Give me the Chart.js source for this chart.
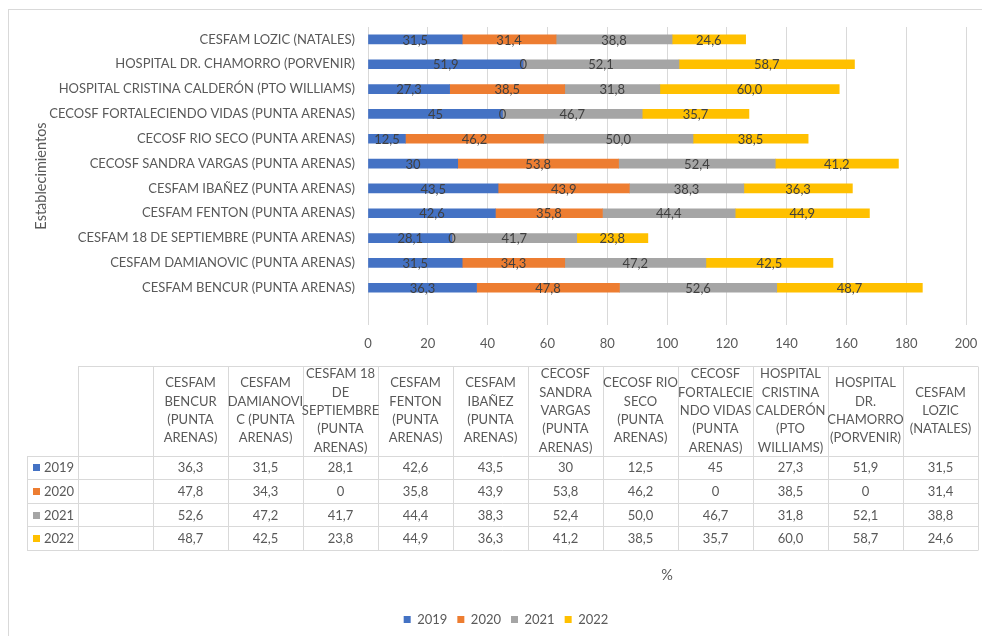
<!DOCTYPE html>
<html>
<head>
<meta charset="utf-8">
<title>Establecimientos</title>
<script src="https://cdn.jsdelivr.net/npm/chart.js"></script>
<style>
  html, body { margin: 0; padding: 0; background: #fff; }
</style>
</head>
<body>
<canvas id="grafico" width="982" height="636"></canvas>
<script>
const establecimientos = [
  'CESFAM BENCUR (PUNTA ARENAS)',
  'CESFAM DAMIANOVIC (PUNTA ARENAS)',
  'CESFAM 18 DE SEPTIEMBRE (PUNTA ARENAS)',
  'CESFAM FENTON (PUNTA ARENAS)',
  'CESFAM IBAÑEZ (PUNTA ARENAS)',
  'CECOSF SANDRA VARGAS (PUNTA ARENAS)',
  'CECOSF RIO SECO (PUNTA ARENAS)',
  'CECOSF FORTALECIENDO VIDAS (PUNTA ARENAS)',
  'HOSPITAL CRISTINA CALDERÓN (PTO WILLIAMS)',
  'HOSPITAL DR. CHAMORRO (PORVENIR)',
  'CESFAM LOZIC (NATALES)'
];
// encabezados de la tabla, cortados como en Excel
const encabezados = [
  ['CESFAM', 'BENCUR', '(PUNTA', 'ARENAS)'],
  ['CESFAM', 'DAMIANOVI', 'C (PUNTA', 'ARENAS)'],
  ['CESFAM 18', 'DE', 'SEPTIEMBRE', '(PUNTA', 'ARENAS)'],
  ['CESFAM', 'FENTON', '(PUNTA', 'ARENAS)'],
  ['CESFAM', 'IBAÑEZ', '(PUNTA', 'ARENAS)'],
  ['CECOSF', 'SANDRA', 'VARGAS', '(PUNTA', 'ARENAS)'],
  ['CECOSF RIO', 'SECO', '(PUNTA', 'ARENAS)'],
  ['CECOSF', 'FORTALECIE', 'NDO VIDAS', '(PUNTA', 'ARENAS)'],
  ['HOSPITAL', 'CRISTINA', 'CALDERÓN', '(PTO', 'WILLIAMS)'],
  ['HOSPITAL', 'DR.', 'CHAMORRO', '(PORVENIR)'],
  ['CESFAM', 'LOZIC', '(NATALES)']
];
const anios = ['2019', '2020', '2021', '2022'];
const v2019 = [36.3, 31.5, 28.1, 42.6, 43.5, 30, 12.5, 45, 27.3, 51.9, 31.5];
const v2020 = [47.8, 34.3, 0, 35.8, 43.9, 53.8, 46.2, 0, 38.5, 0, 31.4];
const v2021 = [52.6, 47.2, 41.7, 44.4, 38.3, 52.4, 50.0, 46.7, 31.8, 52.1, 38.8];
const v2022 = [48.7, 42.5, 23.8, 44.9, 36.3, 41.2, 38.5, 35.7, 60.0, 58.7, 24.6];
const decimales = [null, null, 1, 1]; // 2019 y 2020 formato general, 2021 y 2022 con un decimal

const series = [v2019, v2020, v2021, v2022];
const colores = ['#4472C4', '#ED7D31', '#A5A5A5', '#FFC000'];
const FUENTE = 'Lato';
const TAM = 13;
const TAM_TITULO = 14.5;
const GRIS = '#595959';
const LINEA = '#D9D9D9';

function fmt(v, d) {
  return (d == null ? String(v) : v.toFixed(d)).replace('.', ',');
}

const datasets = series.map((vals, s) => ({
  label: anios[s],
  data: vals.map((v, i) => ({ x: v, y: establecimientos[i] })),
  backgroundColor: colores[s],
  borderWidth: 0,
  barThickness: 9,
  decimales: decimales[s]
}));

// fondo y borde del gráfico
const borde = {
  id: 'borde',
  beforeDraw(chart) {
    const ctx = chart.ctx;
    ctx.save();
    ctx.fillStyle = '#fff';
    ctx.fillRect(0, 0, chart.width, chart.height);
    ctx.strokeStyle = LINEA;
    ctx.strokeRect(8.5, 9.5, 1000, 700);
    ctx.restore();
  }
};

// etiquetas de valor en el centro de cada segmento
const etiquetas = {
  id: 'etiquetas',
  afterDatasetsDraw(chart) {
    const ctx = chart.ctx;
    ctx.save();
    ctx.font = TAM + 'px ' + FUENTE;
    ctx.fillStyle = '#404040';
    ctx.textAlign = 'center';
    ctx.textBaseline = 'middle';
    chart.data.datasets.forEach((ds, s) => {
      chart.getDatasetMeta(s).data.forEach((bar, i) => {
        const p = bar.getProps(['x', 'y', 'base'], true);
        ctx.fillText(fmt(ds.data[i].x, ds.decimales), (p.x + p.base) / 2, p.y + 1);
      });
    });
    ctx.restore();
  }
};

// tabla de datos bajo el gráfico
const tabla = {
  id: 'tabla',
  afterDraw(chart) {
    const ctx = chart.ctx;
    const top = 366, headH = 89.5, rowH = 23.6;
    const left = 78, colW = 75, keyLeft = 27;
    const c0 = left + colW;
    const right = c0 + establecimientos.length * colW;
    const y1 = top + headH;
    const bottom = y1 + anios.length * rowH;
    const px = v => Math.round(v) + 0.5;
    ctx.save();
    ctx.strokeStyle = LINEA;
    ctx.lineWidth = 1;
    ctx.beginPath();
    ctx.moveTo(left, px(top)); ctx.lineTo(right, px(top));
    for (let r = 0; r <= anios.length; r++) {
      const y = px(y1 + r * rowH);
      ctx.moveTo(keyLeft, y); ctx.lineTo(right, y);
    }
    ctx.moveTo(px(keyLeft), px(y1)); ctx.lineTo(px(keyLeft), px(bottom));
    for (let c = 0; c <= establecimientos.length + 1; c++) {
      const x = px(left + c * colW);
      ctx.moveTo(x, px(top)); ctx.lineTo(x, px(bottom));
    }
    ctx.stroke();

    ctx.font = TAM + 'px ' + FUENTE;
    ctx.fillStyle = GRIS;
    ctx.textAlign = 'center';
    ctx.textBaseline = 'middle';
    const lh = 18.3;
    encabezados.forEach((lineas, c) => {
      const cx = c0 + c * colW + colW / 2;
      const y = top + headH / 2 - (lineas.length - 1) * lh / 2;
      lineas.forEach((t, k) => ctx.fillText(t, cx, y + k * lh));
    });
    series.forEach((vals, s) => {
      const cy = y1 + s * rowH + rowH / 2;
      vals.forEach((v, c) => ctx.fillText(fmt(v, decimales[s]), c0 + c * colW + colW / 2, cy + 1));
      ctx.fillStyle = colores[s];
      ctx.fillRect(33, Math.round(cy - 3), 7, 7);
      ctx.fillStyle = GRIS;
      ctx.textAlign = 'left';
      ctx.fillText(anios[s], 44, cy + 1);
      ctx.textAlign = 'center';
    });
    ctx.restore();
  }
};

new Chart(document.getElementById('grafico'), {
  type: 'bar',
  data: { datasets },
  options: {
    indexAxis: 'y',
    responsive: false,
    animation: false,
    layout: { padding: { top: 27, left: 30, right: 0, bottom: 0 } },
    scales: {
      x: {
        stacked: true,
        min: 0,
        max: 200,
        ticks: { stepSize: 20, color: GRIS, font: { family: FUENTE, size: TAM }, padding: 11 },
        grid: { color: LINEA, drawTicks: false },
        border: { display: false },
        title: { display: true, text: '%', color: GRIS, font: { family: FUENTE, size: TAM_TITULO }, padding: { top: 204, bottom: 19 } },
        afterFit(scale) { scale.paddingRight = 16; }
      },
      y: {
        type: 'category',
        labels: [''].concat(establecimientos),
        reverse: true,
        stacked: true,
        grid: { display: false, drawTicks: false },
        border: { display: false },
        ticks: { color: GRIS, font: { family: FUENTE, size: TAM }, padding: 13, autoSkip: false },
        title: { display: true, text: 'Establecimientos', color: GRIS, font: { family: FUENTE, size: TAM_TITULO }, padding: 3 },
        afterFit(scale) { scale.width = 338; }
      }
    },
    plugins: {
      legend: {
        position: 'bottom',
        labels: { boxWidth: 7, boxHeight: 7, color: GRIS, font: { family: FUENTE, size: TAM }, padding: 10 }
      },
      tooltip: { enabled: false }
    }
  },
  plugins: [borde, etiquetas, tabla]
});
</script>
</body>
</html>
